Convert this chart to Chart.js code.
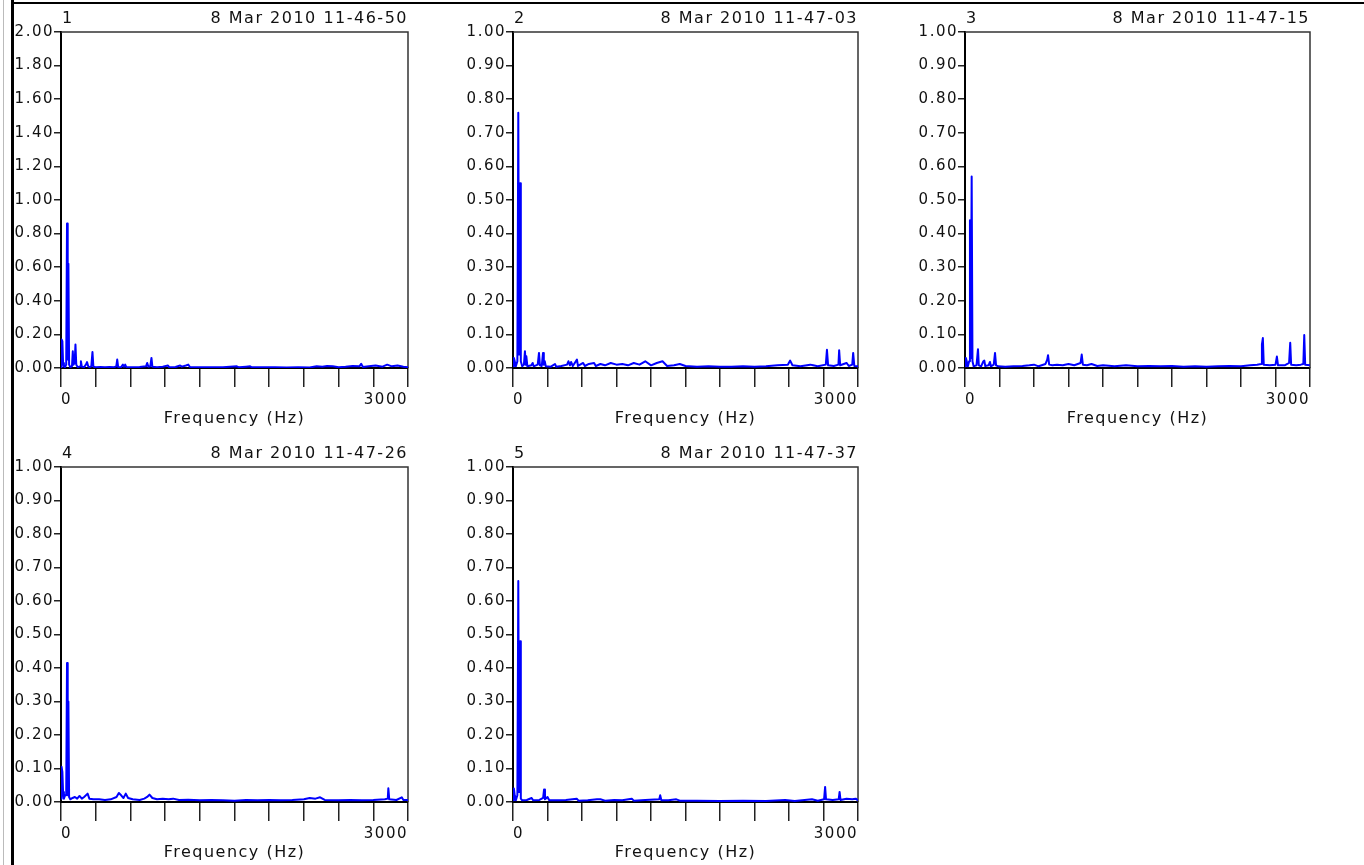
<!DOCTYPE html>
<html>
<head>
<meta charset="utf-8">
<script src="https://cdn.jsdelivr.net/npm/chart.js@4.4.1/dist/chart.umd.min.js"></script>
<style>
  body { margin: 0; background: #fff; width: 1364px; height: 865px; overflow: hidden; position: relative; }
  canvas { position: absolute; }
  .line { position: absolute; }
</style>
</head>
<body>
<canvas id="p1" width="413" height="430" style="left:0;top:0"></canvas>
<canvas id="p2" width="411" height="430" style="left:452px;top:0"></canvas>
<canvas id="p3" width="411" height="430" style="left:904px;top:0"></canvas>
<canvas id="p4" width="413" height="429" style="left:0;top:435px"></canvas>
<canvas id="p5" width="411" height="429" style="left:452px;top:435px"></canvas>
<div class="line" style="left:3px;top:0;width:1px;height:865px;background:#bbb"></div>
<div class="line" style="left:11px;top:0;width:3px;height:865px;background:#000"></div>
<div class="line" style="left:11px;top:2px;width:1353px;height:2px;background:#000"></div>
<script>
// panel titles
const panelNums = ['1', '2', '3', '4', '5'];
const panelDates = ['8 Mar 2010 11-46-50', '8 Mar 2010 11-47-03', '8 Mar 2010 11-47-15', '8 Mar 2010 11-47-26', '8 Mar 2010 11-47-37'];
const yMaxes = [2.0, 1.0, 1.0, 1.0, 1.0];
const ySteps = [0.2, 0.1, 0.1, 0.1, 0.1];
const xTickLabels = ['0', '3000'];

// spectra (Hz, amplitude)
const freq1 = [0, 5, 12, 18, 25, 35, 45, 52, 58, 64, 70, 80, 95, 102, 108, 118, 125, 132, 145, 165, 172, 180, 200, 215, 225, 235, 248, 262, 272, 280, 300, 340, 380, 420, 460, 478, 486, 494, 520, 535, 545, 555, 565, 620, 680, 735, 745, 755, 772, 782, 790, 830, 880, 925, 935, 990, 1030, 1045, 1080, 1100, 1115, 1200, 1300, 1400, 1520, 1540, 1600, 1635, 1650, 1750, 1850, 1950, 2050, 2150, 2210, 2260, 2300, 2350, 2400, 2460, 2520, 2580, 2595, 2610, 2660, 2720, 2780, 2820, 2860, 2910, 2960, 3000];
const amp1 = [0.005, 0.17, 0.16, 0.03, 0.01, 0.005, 0.02, 0.86, 0.05, 0.62, 0.02, 0.005, 0.01, 0.10, 0.02, 0.03, 0.14, 0.02, 0.005, 0.01, 0.04, 0.008, 0.005, 0.02, 0.035, 0.01, 0.005, 0.01, 0.095, 0.008, 0.005, 0.006, 0.004, 0.006, 0.005, 0.01, 0.05, 0.006, 0.005, 0.02, 0.008, 0.02, 0.005, 0.005, 0.006, 0.01, 0.03, 0.008, 0.01, 0.06, 0.008, 0.005, 0.008, 0.015, 0.005, 0.006, 0.015, 0.008, 0.015, 0.02, 0.006, 0.005, 0.004, 0.005, 0.01, 0.004, 0.008, 0.01, 0.004, 0.004, 0.004, 0.003, 0.004, 0.003, 0.01, 0.008, 0.012, 0.01, 0.005, 0.008, 0.012, 0.01, 0.025, 0.006, 0.01, 0.015, 0.008, 0.02, 0.01, 0.015, 0.008, 0.005];

const freq2 = [0, 8, 15, 25, 38, 46, 53, 61, 68, 80, 95, 104, 110, 116, 125, 160, 171, 180, 215, 226, 234, 250, 261, 268, 276, 285, 330, 365, 375, 420, 470, 482, 495, 505, 520, 556, 565, 610, 625, 660, 705, 720, 760, 800, 850, 900, 950, 1000, 1050, 1100, 1150, 1200, 1250, 1300, 1340, 1400, 1450, 1500, 1600, 1700, 1800, 1900, 2000, 2100, 2200, 2300, 2390, 2410, 2430, 2500, 2585, 2610, 2650, 2720, 2730, 2740, 2790, 2830, 2836, 2845, 2900, 2920, 2950, 2958, 2968, 3000];
const amp2 = [0.005, 0.03, 0.02, 0.005, 0.02, 0.76, 0.04, 0.55, 0.02, 0.005, 0.01, 0.05, 0.01, 0.035, 0.005, 0.008, 0.015, 0.005, 0.01, 0.045, 0.008, 0.006, 0.045, 0.01, 0.02, 0.005, 0.004, 0.012, 0.004, 0.006, 0.01, 0.02, 0.008, 0.018, 0.006, 0.025, 0.006, 0.015, 0.006, 0.012, 0.015, 0.006, 0.012, 0.008, 0.015, 0.01, 0.012, 0.008, 0.015, 0.01, 0.02, 0.008, 0.015, 0.02, 0.006, 0.008, 0.012, 0.006, 0.004, 0.005, 0.004, 0.004, 0.005, 0.004, 0.005, 0.008, 0.01, 0.022, 0.008, 0.005, 0.01, 0.008, 0.005, 0.01, 0.054, 0.008, 0.006, 0.01, 0.053, 0.008, 0.015, 0.006, 0.01, 0.045, 0.006, 0.005];

const freq3 = [0, 8, 15, 25, 36, 43, 50, 58, 65, 75, 100, 113, 120, 140, 160, 168, 176, 205, 217, 225, 250, 261, 270, 290, 350, 420, 500, 560, 600, 640, 700, 715, 722, 732, 760, 800, 850, 900, 950, 1005, 1015, 1025, 1060, 1100, 1150, 1200, 1300, 1400, 1500, 1600, 1700, 1800, 1900, 2000, 2100, 2200, 2300, 2400, 2480, 2540, 2575, 2582, 2590, 2598, 2650, 2700, 2712, 2722, 2780, 2818, 2828, 2836, 2880, 2920, 2942, 2950, 2958, 3000];
const amp3 = [0.005, 0.03, 0.02, 0.005, 0.02, 0.44, 0.03, 0.57, 0.02, 0.005, 0.008, 0.056, 0.008, 0.005, 0.02, 0.022, 0.006, 0.008, 0.018, 0.005, 0.01, 0.045, 0.008, 0.005, 0.004, 0.005, 0.006, 0.008, 0.01, 0.005, 0.012, 0.025, 0.038, 0.01, 0.008, 0.01, 0.008, 0.012, 0.008, 0.015, 0.04, 0.01, 0.008, 0.012, 0.006, 0.008, 0.005, 0.008, 0.005, 0.006, 0.005, 0.006, 0.004, 0.005, 0.004, 0.005, 0.006, 0.005, 0.008, 0.01, 0.012, 0.07, 0.089, 0.01, 0.008, 0.01, 0.034, 0.008, 0.008, 0.015, 0.075, 0.01, 0.008, 0.01, 0.012, 0.098, 0.01, 0.008];

const freq4 = [0, 5, 12, 18, 25, 35, 45, 52, 58, 64, 70, 80, 100, 120, 140, 160, 180, 200, 230, 245, 280, 330, 380, 430, 480, 500, 520, 540, 560, 580, 620, 680, 720, 745, 765, 790, 830, 880, 930, 970, 1020, 1100, 1200, 1300, 1400, 1500, 1600, 1700, 1800, 1900, 2000, 2100, 2150, 2200, 2240, 2280, 2400, 2500, 2600, 2700, 2800, 2825, 2830, 2838, 2900, 2946, 2960, 3000];
const amp4 = [0.01, 0.105, 0.09, 0.03, 0.01, 0.02, 0.02, 0.415, 0.02, 0.30, 0.015, 0.008, 0.012, 0.015, 0.01, 0.018, 0.01, 0.015, 0.025, 0.01, 0.008, 0.008, 0.006, 0.008, 0.015, 0.027, 0.02, 0.012, 0.025, 0.012, 0.008, 0.006, 0.01, 0.015, 0.022, 0.012, 0.008, 0.01, 0.008, 0.01, 0.006, 0.007, 0.005, 0.006, 0.005, 0.004, 0.006, 0.005, 0.006, 0.005, 0.006, 0.008, 0.012, 0.01, 0.014, 0.006, 0.005, 0.006, 0.005, 0.006, 0.008, 0.01, 0.041, 0.008, 0.006, 0.014, 0.006, 0.006];

const freq5 = [0, 8, 15, 25, 38, 46, 53, 61, 68, 80, 120, 162, 175, 230, 262, 270, 278, 300, 315, 400, 460, 554, 570, 650, 730, 760, 800, 880, 950, 1033, 1050, 1150, 1272, 1280, 1290, 1350, 1420, 1450, 1600, 1800, 2000, 2200, 2366, 2450, 2600, 2650, 2705, 2714, 2722, 2780, 2832, 2840, 2848, 2900, 2950, 2980, 3000];
const amp5 = [0.005, 0.04, 0.02, 0.005, 0.02, 0.66, 0.03, 0.48, 0.01, 0.005, 0.006, 0.012, 0.005, 0.006, 0.012, 0.037, 0.008, 0.015, 0.005, 0.005, 0.006, 0.01, 0.004, 0.005, 0.008, 0.008, 0.004, 0.006, 0.005, 0.01, 0.004, 0.006, 0.008, 0.02, 0.005, 0.005, 0.008, 0.004, 0.004, 0.003, 0.004, 0.003, 0.006, 0.003, 0.008, 0.004, 0.008, 0.045, 0.008, 0.006, 0.008, 0.03, 0.006, 0.01, 0.008, 0.01, 0.005];

const freqs = [freq1, freq2, freq3, freq4, freq5];
const amps = [amp1, amp2, amp3, amp4, amp5];

Chart.defaults.font.family = 'DejaVu Sans';
Chart.defaults.font.size = 15;
Chart.defaults.color = '#111';

// the reference text is set wide, so space the letters out a bit
const spacing = {
    id: 'spacing',
    beforeDraw(chart) {
        chart.ctx.letterSpacing = '1.5px';
    }
};

// box around plot + panel number and date above it
const frame = {
    id: 'frame',
    beforeDatasetsDraw(chart) {
        const {ctx, chartArea: a} = chart;
        ctx.save();
        ctx.strokeStyle = '#333';
        ctx.lineWidth = 1.5;
        ctx.beginPath();
        ctx.moveTo(a.left, a.top);
        ctx.lineTo(a.right, a.top);
        ctx.lineTo(a.right, a.bottom);
        ctx.stroke();
        ctx.restore();
    },
    afterDraw(chart, args, opts) {
        const {ctx, chartArea: a} = chart;
        ctx.save();
        ctx.letterSpacing = '1.5px';
        ctx.font = '16px "DejaVu Sans"';
        ctx.fillStyle = '#111';
        ctx.textBaseline = 'alphabetic';
        ctx.textAlign = 'left';
        ctx.fillText(opts.num, a.left + 1, a.top - 9);
        ctx.textAlign = 'right';
        ctx.fillText(opts.date, a.right, a.top - 9);
        ctx.restore();
    }
};

function makePanel(i) {
    const points = freqs[i].map((f, k) => ({x: f, y: amps[i][k]}));
    const ctx = document.getElementById('p' + (i + 1)).getContext('2d');
    new Chart(ctx, {
        type: 'line',
        data: {
            datasets: [{
                data: points,
                borderColor: '#0000ff',
                borderWidth: 2,
                borderJoinStyle: 'round',
                pointRadius: 0,
                tension: 0
            }]
        },
        options: {
            responsive: false,
            animation: false,
            events: [],
            layout: { padding: { top: 32, right: 5, bottom: 0, left: 0 } },
            plugins: {
                legend: { display: false },
                tooltip: { enabled: false },
                frame: { num: panelNums[i], date: panelDates[i] }
            },
            scales: {
                x: {
                    type: 'linear',
                    min: 0,
                    max: 3000,
                    afterFit(scale) { scale.height = 62; },
                    border: { color: '#000', width: 2 },
                    grid: { drawOnChartArea: false, tickLength: 19, color: '#222', lineWidth: 1.5 },
                    ticks: {
                        stepSize: 300,
                        autoSkip: false,
                        maxRotation: 0,
                        align: 'inner',
                        padding: 4,
                        callback: v => v === 0 ? xTickLabels[0] : (v === 3000 ? xTickLabels[1] : '')
                    },
                    title: {
                        display: true,
                        text: 'Frequency (Hz)',
                        font: { size: 16 },
                        padding: { top: 0, bottom: 2 }
                    }
                },
                y: {
                    min: 0,
                    max: yMaxes[i],
                    afterFit(scale) { scale.width = 61; },
                    border: { color: '#000', width: 2 },
                    grid: { drawOnChartArea: false, tickLength: 7, color: '#222', lineWidth: 1.5 },
                    ticks: {
                        stepSize: ySteps[i],
                        padding: 0,
                        callback: v => v.toFixed(2)
                    }
                }
            }
        },
        plugins: [spacing, frame]
    });
}

for (let i = 0; i < 5; i++) makePanel(i);
</script>
</body>
</html>
